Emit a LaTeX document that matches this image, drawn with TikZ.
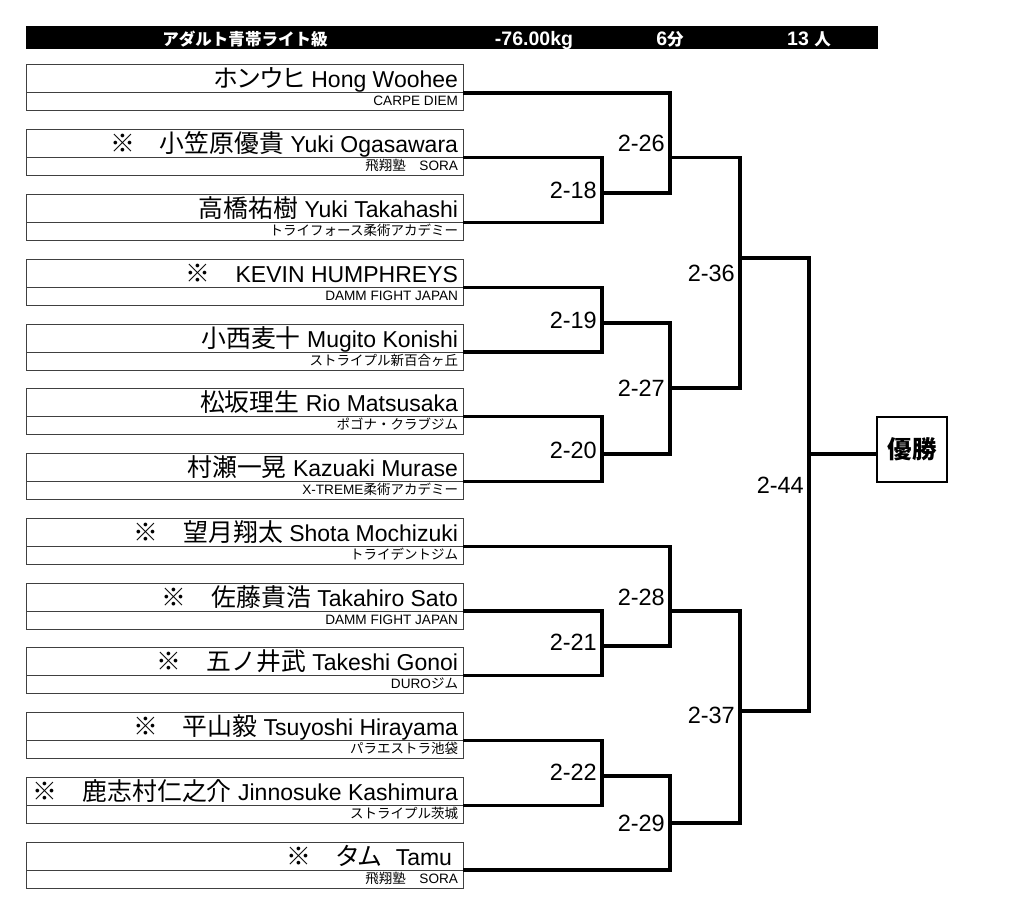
\documentclass[tikz,border=0pt]{standalone}
\usepackage{fontspec}
\setmainfont{Liberation Sans}
\newfontfamily\jp[Scale=1.08]{Noto Sans CJK JP}
\newfontfamily\jpp[Scale=1.08,RawFeature=+palt]{Noto Sans CJK JP}
\newcommand\J[1]{{\jp #1}}
\newcommand\JP[1]{{\jpp #1}}
\newcommand\Jc[1]{{\jp\fontsize{12.5}{13}\selectfont #1}}
\newcommand\Jh[1]{{\jp\fontsize{15.3}{16}\selectfont #1}}
\newcommand\RA[1]{\hbox to 427pt{\hss #1}}
\begin{document}
\begin{tikzpicture}[x=1pt,y=-1pt,
  boxline/.style={draw=black!75, line width=1pt, outer sep=0pt},
  namebox/.style={boxline, anchor=south east, inner xsep=5pt, inner ysep=0pt,
    text height=23pt, text depth=5pt, font=\fontsize{23}{24}\selectfont},
  clubbox/.style={boxline, anchor=north east, inner xsep=5pt, inner ysep=0pt,
    text height=13pt, text depth=5pt, font=\fontsize{13.6}{14}\selectfont},
  bracket/.style={line width=3.2pt},
  score/.style={anchor=east, inner sep=0pt, font=\fontsize{23.5}{24}\selectfont},
  hdrtext/.style={text=white, anchor=base, inner sep=0pt, font=\bfseries\fontsize{19.5}{20}\selectfont},
]
\useasboundingbox (0,0) rectangle (1024,904);

% header
\node[fill=black, anchor=north west, minimum width=852pt, minimum height=23pt, inner sep=0pt, outer sep=0pt] (hdr) at (26,26) {};
\node[hdrtext] (h1) at (245,45.5) {\Jh{アダルト青帯ライト級}};
\node[hdrtext] (h2) at (534,45.5) {-76.00kg};
\node[hdrtext] (h3) at (670,45.5) {6\Jh{分}};
\node[hdrtext] (h4) at (809,45.5) {13 \Jh{人}};

% players
\node[namebox] (n1) at (463,93) {\RA{\JP{ホンウヒ} Hong Woohee}};
\node[clubbox] (c1) at (463,93) {\RA{CARPE DIEM}};
\node[namebox] (n2) at (463,157.75) {\RA{\J{※　小笠原優貴} Yuki Ogasawara}};
\node[clubbox] (c2) at (463,157.75) {\RA{\Jc{飛翔塾　}SORA}};
\node[namebox] (n3) at (463,222.5) {\RA{\J{高橋祐樹} Yuki Takahashi}};
\node[clubbox] (c3) at (463,222.5) {\RA{\Jc{トライフォース柔術アカデミー}}};
\node[namebox] (n4) at (463,287.25) {\RA{\J{※　}KEVIN HUMPHREYS}};
\node[clubbox] (c4) at (463,287.25) {\RA{DAMM FIGHT JAPAN}};
\node[namebox] (n5) at (463,352) {\RA{\J{小西麦十} Mugito Konishi}};
\node[clubbox] (c5) at (463,352) {\RA{\Jc{ストライプル新百合ヶ丘}}};
\node[namebox] (n6) at (463,416.75) {\RA{\J{松坂理生} Rio Matsusaka}};
\node[clubbox] (c6) at (463,416.75) {\RA{\Jc{ポゴナ・クラブジム}}};
\node[namebox] (n7) at (463,481.5) {\RA{\J{村瀬一晃} Kazuaki Murase}};
\node[clubbox] (c7) at (463,481.5) {\RA{X-TREME\Jc{柔術アカデミー}}};
\node[namebox] (n8) at (463,546.25) {\RA{\J{※　望月翔太} Shota Mochizuki}};
\node[clubbox] (c8) at (463,546.25) {\RA{\Jc{トライデントジム}}};
\node[namebox] (n9) at (463,611) {\RA{\J{※　佐藤貴浩} Takahiro Sato}};
\node[clubbox] (c9) at (463,611) {\RA{DAMM FIGHT JAPAN}};
\node[namebox] (n10) at (463,675.75) {\RA{\J{※　五ノ井武} Takeshi Gonoi}};
\node[clubbox] (c10) at (463,675.75) {\RA{DURO\Jc{ジム}}};
\node[namebox] (n11) at (463,740.5) {\RA{\J{※　平山毅} Tsuyoshi Hirayama}};
\node[clubbox] (c11) at (463,740.5) {\RA{\Jc{パラエストラ池袋}}};
\node[namebox] (n12) at (463,805.25) {\RA{\J{※　鹿志村仁之介} Jinnosuke Kashimura}};
\node[clubbox] (c12) at (463,805.25) {\RA{\Jc{ストライプル茨城}}};
\node[namebox] (n13) at (463,870) {\RA{\J{※　}\JP{タム} \kern8pt Tamu\kern6pt}};
\node[clubbox] (c13) at (463,870) {\RA{\Jc{飛翔塾　}SORA}};

% winner
\node[draw, line width=1.4pt, minimum width=70pt, minimum height=65pt, inner sep=0pt,
  font=\jp\bfseries\fontsize{22.7}{24}\selectfont] (win) at (912,449.5) {優勝};

% match points
\coordinate (m18) at (602,193);
\coordinate (m19) at (602,323);
\coordinate (m20) at (602,454);
\coordinate (m21) at (602,646);
\coordinate (m22) at (602,776);
\coordinate (m26) at (670,157.75);
\coordinate (m27) at (670,388);
\coordinate (m28) at (670,611);
\coordinate (m29) at (670,823);
\coordinate (m36) at (740,258);
\coordinate (m37) at (740,711);
\coordinate (m44) at (809,454);

% bracket lines
\draw[bracket] (n2.south east) -| (m18);
\draw[bracket] (n3.south east) -| (m18);
\draw[bracket] (n1.south east) -| (m26);
\draw[bracket] (m18) -| (m26);
\draw[bracket] (n4.south east) -| (m19);
\draw[bracket] (n5.south east) -| (m19);
\draw[bracket] (n6.south east) -| (m20);
\draw[bracket] (n7.south east) -| (m20);
\draw[bracket] (m19) -| (m27);
\draw[bracket] (m20) -| (m27);
\draw[bracket] (m26) -| (m36);
\draw[bracket] (m27) -| (m36);
\draw[bracket] (n9.south east) -| (m21);
\draw[bracket] (n10.south east) -| (m21);
\draw[bracket] (n8.south east) -| (m28);
\draw[bracket] (m21) -| (m28);
\draw[bracket] (n11.south east) -| (m22);
\draw[bracket] (n12.south east) -| (m22);
\draw[bracket] (m22) -| (m29);
\draw[bracket] (n13.south east) -| (m29);
\draw[bracket] (m28) -| (m37);
\draw[bracket] (m29) -| (m37);
\draw[bracket] (m36) -| (m44);
\draw[bracket] (m37) -| (m44);
\draw[bracket] (m44) -- (m44 -| win.west);

% scores
\node[score] (s18) at (597,190) {2-18};
\node[score] (s26) at (665,143) {2-26};
\node[score] (s36) at (735,273) {2-36};
\node[score] (s19) at (597,320) {2-19};
\node[score] (s27) at (665,388) {2-27};
\node[score] (s20) at (597,450) {2-20};
\node[score] (s44) at (804,485) {2-44};
\node[score] (s28) at (665,597) {2-28};
\node[score] (s21) at (597,642) {2-21};
\node[score] (s37) at (735,715) {2-37};
\node[score] (s22) at (597,772) {2-22};
\node[score] (s29) at (665,823) {2-29};
\end{tikzpicture}
\end{document}
